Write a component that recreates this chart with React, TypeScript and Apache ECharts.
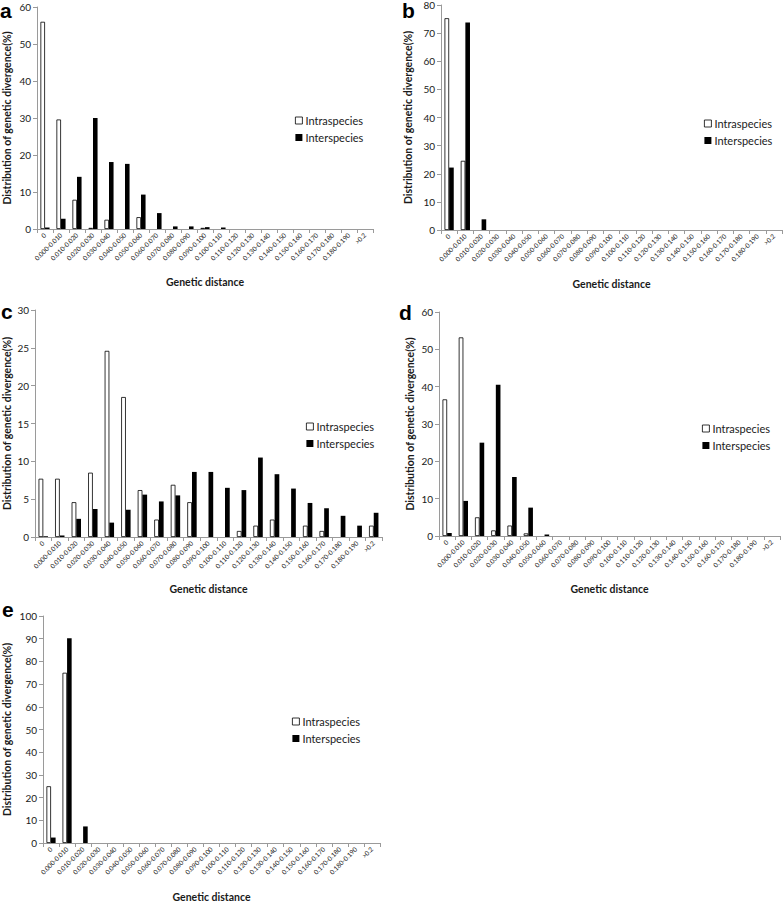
import React, { useEffect, useRef } from 'react';
import * as echarts from 'echarts';

const categories = [
  '0', '0.000-0.010', '0.010-0.020', '0.020-0.030', '0.030-0.040', '0.040-0.050',
  '0.050-0.060', '0.060-0.070', '0.070-0.080', '0.080-0.090', '0.090-0.100',
  '0.100-0.110', '0.110-0.120', '0.120-0.130', '0.130-0.140', '0.140-0.150',
  '0.150-0.160', '0.160-0.170', '0.170-0.180', '0.180-0.190', '>0.2',
];

const seriesNames = ['Intraspecies', 'Interspecies'];
const panelLetters = ['a', 'b', 'c', 'd', 'e'];
const yMaxValues = [60, 80, 30, 60, 100];
const yIntervals = [10, 10, 5, 10, 10];
const xTitle = 'Genetic distance';
const yTitle = 'Distribution of genetic divergence(%)';

const aIntra = [56, 29.6, 7.9, 0.3, 2.5, 0, 3.2, 0, 0, 0, 0.3, 0, 0, 0, 0, 0, 0, 0, 0, 0, 0];
const aInter = [0.4, 2.8, 14.1, 30, 18.1, 17.6, 9.3, 4.3, 0.7, 0.7, 0.5, 0.4, 0, 0, 0, 0, 0, 0, 0, 0, 0];
const bIntra = [75.3, 24.6, 0, 0, 0, 0, 0, 0, 0, 0, 0, 0, 0, 0, 0, 0, 0, 0, 0, 0, 0];
const bInter = [22.2, 73.8, 3.8, 0, 0, 0, 0, 0, 0, 0, 0, 0, 0, 0, 0, 0, 0, 0, 0, 0, 0];
const cIntra = [7.7, 7.7, 4.6, 8.5, 24.6, 18.5, 6.2, 2.3, 6.9, 4.6, 0, 0, 0.8, 1.5, 2.3, 0, 1.5, 0.8, 0, 0, 1.5];
const cInter = [0.1, 0.2, 2.4, 3.7, 1.9, 3.6, 5.6, 4.7, 5.5, 8.6, 8.6, 6.5, 6.2, 10.5, 8.3, 6.4, 4.5, 3.8, 2.8, 1.5, 3.2];
const dIntra = [36.6, 53.2, 5.0, 1.5, 2.8, 0.7, 0, 0, 0, 0, 0, 0, 0, 0, 0, 0, 0, 0, 0, 0, 0];
const dInter = [0.8, 9.4, 25, 40.5, 15.8, 7.6, 0.4, 0, 0, 0, 0, 0, 0, 0, 0, 0, 0, 0, 0, 0, 0];
const eIntra = [25, 75, 0, 0, 0, 0, 0, 0, 0, 0, 0, 0, 0, 0, 0, 0, 0, 0, 0, 0, 0];
const eInter = [2.4, 90.2, 7.3, 0, 0, 0, 0, 0, 0, 0, 0, 0, 0, 0, 0, 0, 0, 0, 0, 0, 0];

const intraSets = [aIntra, bIntra, cIntra, dIntra, eIntra];
const interSets = [aInter, bInter, cInter, dInter, eInter];

// layout (pixels)
const layout = [
  { left: 35, top: 7, width: 338, height: 222, yGap: 25, xGap: 47, legLeft: 295, legTop: 115, letterX: 0, letterY: 0 },
  { left: 441, top: 4, width: 341, height: 226, yGap: 28, xGap: 48, legLeft: 704, legTop: 118, letterX: 402, letterY: 0 },
  { left: 33, top: 310, width: 349, height: 227, yGap: 23, xGap: 46, legLeft: 306, legTop: 421, letterX: 1, letterY: 301 },
  { left: 439, top: 312, width: 341, height: 224, yGap: 24, xGap: 47, legLeft: 702, legTop: 423, letterX: 399, letterY: 302 },
  { left: 41, top: 616, width: 339, height: 227, yGap: 31, xGap: 48, legLeft: 292, legTop: 716, letterX: 2, letterY: 599 },
];

const FONT = 'Lato, "Open Sans", sans-serif';
const AXIS_GRAY = '#9a9a9a';
const TEXT = '#1a1a1a';

export default function App() {
  const ref = useRef<HTMLDivElement>(null);

  useEffect(() => {
    if (!ref.current) return;
    const chart = echarts.init(ref.current, undefined, { renderer: 'svg' });

    const clean = (arr: number[]) => arr.map((v) => (v === 0 ? '-' : v));

    const grid: any[] = [];
    const xAxis: any[] = [];
    const yAxis: any[] = [];
    const series: any[] = [];
    const legend: any[] = [];
    const graphic: any[] = [];

    layout.forEach((L, i) => {
      grid.push({ left: L.left, top: L.top, width: L.width, height: L.height, containLabel: false });
      xAxis.push({
        type: 'category',
        gridIndex: i,
        data: categories,
        boundaryGap: true,
        name: xTitle,
        nameLocation: 'middle',
        nameGap: L.xGap,
        nameTextStyle: { fontFamily: FONT, fontWeight: 'bold', fontSize: 10.5, color: TEXT },
        axisLine: { lineStyle: { color: AXIS_GRAY, width: 1 } },
        axisTick: { show: true, alignWithLabel: false, length: 4, lineStyle: { color: AXIS_GRAY } },
        axisLabel: { interval: 0, rotate: 45, fontSize: 6.5, fontFamily: FONT, color: TEXT, margin: 5 },
        splitLine: { show: false },
      });
      yAxis.push({
        type: 'value',
        gridIndex: i,
        min: 0,
        max: yMaxValues[i],
        interval: yIntervals[i],
        name: yTitle,
        nameLocation: 'middle',
        nameRotate: 90,
        nameGap: L.yGap,
        nameTextStyle: { fontFamily: FONT, fontWeight: 'bold', fontSize: 10.5, color: TEXT },
        axisLine: { show: true, lineStyle: { color: AXIS_GRAY, width: 1 } },
        axisTick: { show: true, length: 4, lineStyle: { color: AXIS_GRAY } },
        axisLabel: { fontSize: 10, fontFamily: FONT, color: TEXT, margin: 6 },
        splitLine: { show: false },
      });
      series.push({
        type: 'bar',
        name: seriesNames[0],
        xAxisIndex: i,
        yAxisIndex: i,
        data: clean(intraSets[i]),
        barGap: '0%',
        barCategoryGap: '43%',
        itemStyle: { color: '#ffffff', borderColor: '#000000', borderWidth: 0.8 },
      });
      series.push({
        type: 'bar',
        name: seriesNames[1],
        xAxisIndex: i,
        yAxisIndex: i,
        data: clean(interSets[i]),
        barGap: '0%',
        barCategoryGap: '43%',
        itemStyle: { color: '#000000' },
      });
      legend.push({
        orient: 'vertical',
        left: L.legLeft,
        top: L.legTop,
        itemWidth: 7,
        itemHeight: 7,
        itemGap: 6,
        icon: 'rect',
        padding: 0,
        selectedMode: false,
        itemStyle: { borderWidth: 0.8 },
        textStyle: { fontFamily: FONT, fontSize: 11, color: TEXT, padding: [0, 0, 0, -2] },
        data: seriesNames,
      });
      graphic.push({
        type: 'text',
        left: L.letterX,
        top: L.letterY,
        style: {
          text: panelLetters[i],
          font: 'bold 21px "Liberation Sans", Arial, sans-serif',
          fill: '#000',
        },
      });
    });

    chart.setOption({
      animation: false,
      backgroundColor: '#ffffff',
      grid,
      xAxis,
      yAxis,
      series,
      legend,
      graphic,
    });

    return () => chart.dispose();
  }, []);

  return (
    <div
      ref={ref}
      style={{ position: 'absolute', left: 0, top: 0, width: 784, height: 904 }}
    />
  );
}
